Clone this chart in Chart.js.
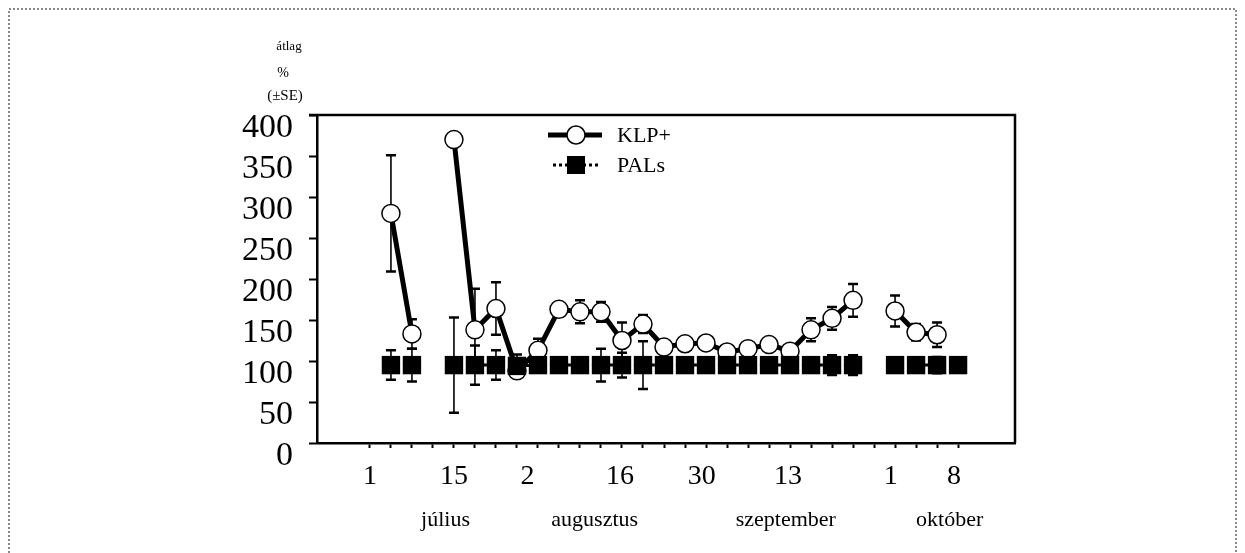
<!DOCTYPE html>
<html>
<head>
<meta charset="utf-8">
<script src="https://cdn.jsdelivr.net/npm/chart.js@4.4.1/dist/chart.umd.min.js"></script>
<style>
  html, body { margin: 0; padding: 0; background: #fff; }
</style>
</head>
<body>
<canvas id="chart" width="1245" height="553"></canvas>
<script>
// one position per sampling date (tick marks on the x axis)
const samples = [0, 1, 2, 3, 4, 5, 6, 7, 8, 9, 10, 11, 12, 13, 14, 15, 16, 17, 18, 19, 20, 21, 22, 23, 24, 25, 26, 27, 28];

// KLP+ mean % and SE (null = no sample)
const klp   = [null, 280, 133, null, 370, 138, 164, 88, 113, 163, 160, 160, 125, 145, 117, 121, 122, 111, 115, 120, 112, 138, 152, 174, null, 161, 135, 132, null];
const klpSE = [null, 71, 18, null, null, 50, 32, null, 14, null, 14, 12, 22, 11, null, null, null, null, null, null, null, 14, 14, 20, null, 19, 10, 15, null];

// PALs mean % and SE
const pals   = [null, 95, 95, null, 95, 95, 95, 94, 95, 95, 95, 95, 95, 95, 95, 95, 95, 95, 95, 95, 95, 95, 95, 95, null, 95, 95, 95, 95];
const palsSE = [null, 18, 20, null, 58, 24, 18, 14, null, null, null, 20, 15, 29, null, null, null, null, null, null, null, null, 12, 12, null, 8, null, 10, null];

// date labels under the axis and their positions (in sample units)
const dayLabels = ['1', '15', '2', '16', '30', '13', '1', '8'];
const dayPos    = [0, 4, 7.5, 11.9, 15.8, 19.9, 24.8, 27.8];
const months    = ['július', 'augusztus', 'szeptember', 'október'];
const monthPos  = [3.6, 10.7, 19.8, 27.6];

const yTitle = ['átlag', '%', '(±SE)'];

const serif = "'Liberation Serif', 'Times New Roman', serif";

function toPoints(vals) {
    return samples.map((s, i) => ({ x: s, y: vals[i] }));
}

const errorBars = {
    id: 'errorBars',
    beforeDatasetsDraw(chart) {
        const ctx = chart.ctx;
        const y = chart.scales.y;
        const x = chart.scales.x;
        chart.data.datasets.forEach((ds) => {
            if (!ds.se) return;
            ds.se.forEach((se, i) => {
                const v = ds.data[i].y;
                if (se == null || v == null) return;
                const px = x.getPixelForValue(ds.data[i].x);
                const top = y.getPixelForValue(v + se);
                const bot = y.getPixelForValue(v - se);
                ctx.save();
                ctx.strokeStyle = '#000';
                ctx.lineWidth = 1.6;
                ctx.beginPath();
                ctx.moveTo(px, top);
                ctx.lineTo(px, bot);
                ctx.stroke();
                ctx.lineWidth = 2.5;
                ctx.beginPath();
                ctx.moveTo(px - 5, top);
                ctx.lineTo(px + 5, top);
                ctx.moveTo(px - 5, bot);
                ctx.lineTo(px + 5, bot);
                ctx.stroke();
                ctx.restore();
            });
        });
    }
};

const decorations = {
    id: 'decorations',
    afterDraw(chart) {
        const ctx = chart.ctx;
        const a = chart.chartArea;
        const x = chart.scales.x;
        ctx.save();

        // page frame
        ctx.strokeStyle = '#8a8a8a';
        ctx.lineWidth = 2;
        ctx.setLineDash([2, 2]);
        ctx.beginPath();
        ctx.moveTo(9, 553);
        ctx.lineTo(9, 9);
        ctx.lineTo(1236, 9);
        ctx.lineTo(1236, 553);
        ctx.stroke();
        ctx.setLineDash([]);

        // top and right side of the plot box
        ctx.strokeStyle = '#000';
        ctx.lineWidth = 2.5;
        ctx.beginPath();
        ctx.moveTo(a.left - 8, a.top);
        ctx.lineTo(a.right, a.top);
        ctx.lineTo(a.right, a.bottom);
        ctx.stroke();

        // y title
        ctx.fillStyle = '#000';
        ctx.textAlign = 'center';
        ctx.textBaseline = 'middle';
        ctx.font = '13px ' + serif;
        ctx.fillText(yTitle[0], a.left - 28, 47);
        ctx.font = '14px ' + serif;
        ctx.fillText(yTitle[1], a.left - 34, 73);
        ctx.font = '15px ' + serif;
        ctx.fillText(yTitle[2], a.left - 32, 96);

        // month names
        ctx.font = '22px ' + serif;
        months.forEach((m, i) => {
            ctx.fillText(m, x.getPixelForValue(monthPos[i]), 520);
        });

        // legend inside the plot
        const ds = chart.data.datasets;
        const lx = 548, ly = [135, 165];
        // KLP+
        ctx.lineWidth = ds[0].borderWidth;
        ctx.strokeStyle = '#000';
        ctx.beginPath();
        ctx.moveTo(lx, ly[0]);
        ctx.lineTo(lx + 54, ly[0]);
        ctx.stroke();
        ctx.fillStyle = '#fff';
        ctx.lineWidth = ds[0].pointBorderWidth;
        ctx.beginPath();
        ctx.arc(lx + 28, ly[0], ds[0].pointRadius, 0, Math.PI * 2);
        ctx.fill();
        ctx.stroke();
        // PALs
        ctx.lineWidth = ds[1].borderWidth;
        ctx.setLineDash(ds[1].borderDash);
        ctx.beginPath();
        ctx.moveTo(lx + 5, ly[1]);
        ctx.lineTo(lx + 50, ly[1]);
        ctx.stroke();
        ctx.setLineDash([]);
        ctx.fillStyle = '#000';
        ctx.fillRect(lx + 19, ly[1] - 9, 18, 18);

        ctx.font = '22px ' + serif;
        ctx.textAlign = 'left';
        ctx.fillText(ds[0].label, 617, ly[0] + 1);
        ctx.fillText(ds[1].label, 617, ly[1] + 1);
        ctx.restore();
    }
};

new Chart(document.getElementById('chart'), {
    type: 'line',
    data: {
        datasets: [{
            label: 'KLP+',
            data: toPoints(klp),
            se: klpSE,
            order: 1,
            borderColor: '#000',
            borderWidth: 5,
            spanGaps: false,
            tension: 0,
            pointStyle: 'circle',
            pointRadius: 9,
            pointBackgroundColor: '#fff',
            pointBorderColor: '#000',
            pointBorderWidth: 1.5
        }, {
            label: 'PALs',
            data: toPoints(pals),
            se: palsSE,
            order: 0,
            borderColor: '#000',
            borderWidth: 3,
            borderDash: [3, 3],
            spanGaps: false,
            tension: 0,
            pointStyle: 'rect',
            pointRadius: 13,
            pointBackgroundColor: '#000',
            pointBorderColor: '#000',
            pointBorderWidth: 0
        }]
    },
    options: {
        responsive: false,
        animation: false,
        devicePixelRatio: 1,
        layout: { padding: { top: 115, right: 230, left: 0, bottom: 0 } },
        plugins: {
            legend: { display: false },
            tooltip: { enabled: false }
        },
        scales: {
            x: {
                type: 'linear',
                min: -2.52,
                max: 30.71,
                afterFit: (scale) => { scale.height = 110; },
                afterBuildTicks: (scale) => {
                    const vals = [...new Set(samples.concat(dayPos))].sort((p, q) => p - q);
                    scale.ticks = vals.map(v => ({ value: v }));
                },
                border: { color: '#000', width: 2.5 },
                grid: {
                    drawOnChartArea: false,
                    drawTicks: true,
                    tickLength: 5,
                    tickWidth: 2,
                    tickColor: (c) => (c.tick && Number.isInteger(c.tick.value)) ? '#000' : 'rgba(0,0,0,0)'
                },
                ticks: {
                    autoSkip: false,
                    maxRotation: 0,
                    padding: 12,
                    color: '#000',
                    font: { family: serif, size: 28 },
                    callback: (v) => {
                        const k = dayPos.indexOf(v);
                        return k >= 0 ? dayLabels[k] : '';
                    }
                }
            },
            y: {
                min: 0,
                max: 400,
                afterFit: (scale) => { scale.width = 317; },
                border: { color: '#000', width: 2.5 },
                grid: {
                    drawOnChartArea: false,
                    drawTicks: true,
                    tickLength: 8,
                    tickWidth: 2,
                    tickColor: '#000'
                },
                ticks: {
                    stepSize: 50,
                    autoSkip: false,
                    padding: 16,
                    labelOffset: 13,
                    color: '#000',
                    font: { family: serif, size: 34 }
                }
            }
        }
    },
    plugins: [errorBars, decorations]
});
</script>
</body>
</html>
